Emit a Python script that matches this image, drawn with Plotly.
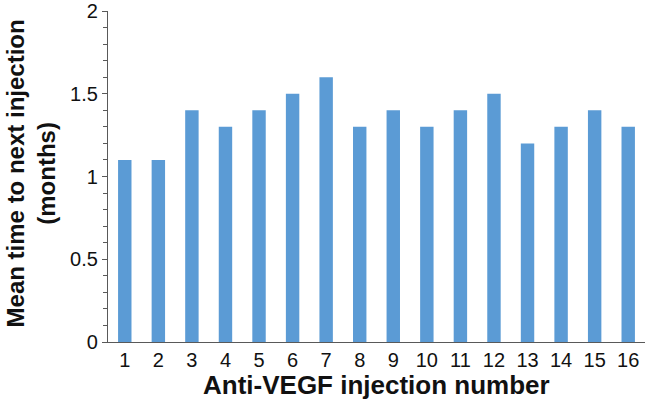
import plotly.graph_objects as go

injection_numbers = [str(i) for i in range(1, 17)]
mean_months = [1.1, 1.1, 1.4, 1.3, 1.4, 1.5, 1.6, 1.3, 1.4, 1.3, 1.4, 1.5, 1.2, 1.3, 1.4, 1.3]
y_ticks = [0, 0.5, 1, 1.5, 2]
y_tick_labels = ["0", "0.5", "1", "1.5", "2"]
x_title = "Anti-VEGF injection number"
y_title = "Mean time to next injection<br>(months)"

fig = go.Figure(go.Bar(x=injection_numbers, y=mean_months, marker_color="#5B9BD5",
                       marker_line_width=0))

fig.update_layout(
    width=647, height=408,
    margin=dict(l=108, r=2, t=11, b=66),
    plot_bgcolor="white", paper_bgcolor="white",
    bargap=0.6,
    font=dict(family="Liberation Sans, Arial, sans-serif", color="#111111"),
    showlegend=False,
    annotations=[
        dict(text="<b>" + x_title + "</b>", xref="paper", yref="paper", x=0.5, y=-0.13,
             xanchor="center", yanchor="middle", showarrow=False, font=dict(size=26)),
        dict(text="<b>" + y_title + "</b>", xref="paper", yref="paper", x=-0.143, y=0.51,
             xanchor="center", yanchor="middle", showarrow=False, textangle=-90,
             font=dict(size=24)),
    ],
)
fig.update_xaxes(
    type="category", automargin=False,
    showline=True, linecolor="#595959", linewidth=1.2,
    ticks="", tickfont=dict(size=20),
    showgrid=False,
)
fig.update_yaxes(
    range=[0, 2], tickvals=y_ticks, ticktext=y_tick_labels, automargin=False,
    showline=True, linecolor="#595959", linewidth=1.2,
    ticks="outside", ticklen=5, tickcolor="#595959",
    minor=dict(dtick=0.1, ticks="outside", ticklen=4, tickcolor="#595959"),
    tickfont=dict(size=20),
    showgrid=False, zeroline=False,
)

fig.write_html("out.html", config={"displayModeBar": False},
               post_script="document.body.style.margin='0';")
